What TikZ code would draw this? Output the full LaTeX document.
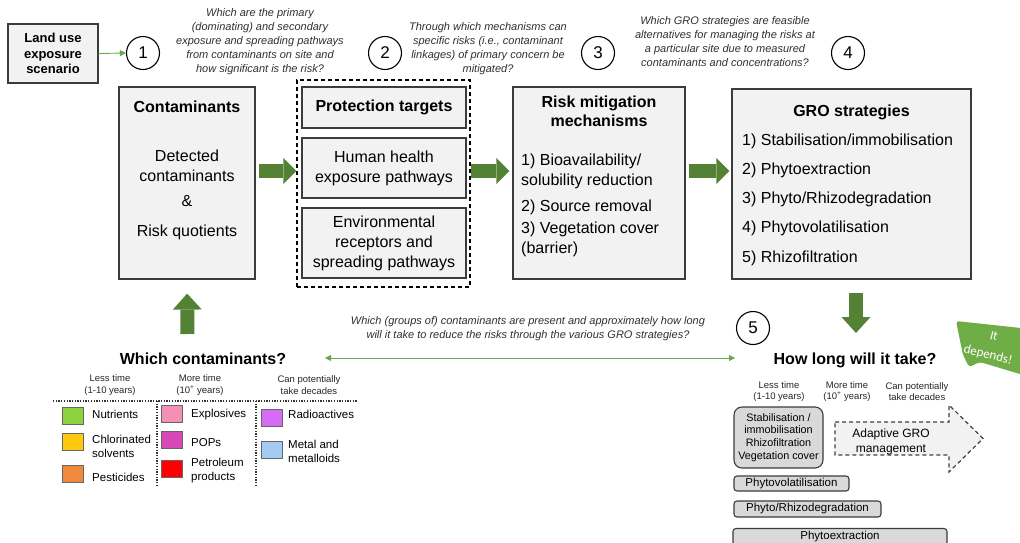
\documentclass[tikz,border=0pt]{standalone}
\usepackage{fontspec}
\setmainfont{Liberation Sans}
\newfontfamily\calfont{Carlito}
\usetikzlibrary{arrows.meta}

\definecolor{boxfill}{HTML}{F2F2F2}
\definecolor{boxline}{HTML}{3C3C3C}
\definecolor{darkgreen}{HTML}{548235}
\definecolor{litegreen}{HTML}{6AA84F}
\definecolor{bubblegreen}{HTML}{6FAD47}
\definecolor{qgray}{HTML}{2F2F2F}
\definecolor{pillfill}{HTML}{D9D9D9}
\definecolor{cNutr}{HTML}{8BD43E}
\definecolor{cChlor}{HTML}{FFC90E}
\definecolor{cPest}{HTML}{F0883E}
\definecolor{cExpl}{HTML}{F490B5}
\definecolor{cPOP}{HTML}{D946B8}
\definecolor{cPetro}{HTML}{FF0000}
\definecolor{cRadio}{HTML}{D66CF5}
\definecolor{cMetal}{HTML}{A4CCF0}

\newcommand\fs[2]{\fontsize{#1}{#2}\selectfont}

\begin{document}
\begin{tikzpicture}[x=1pt,y=-1pt,
  box/.style={draw=boxline, line width=1.2pt, fill=boxfill, inner sep=0pt},
  titletext/.style={font=\bfseries\fs{16}{19}, align=center, inner sep=0pt},
  bodytext/.style={font=\fs{16}{20}, align=center, inner sep=0pt},
  itemtext/.style={font=\fs{16}{20}, align=left, anchor=west, inner sep=0pt},
  question/.style={font=\itshape\fs{11}{14}, text=qgray, align=center, inner sep=0pt},
  numcirc/.style={circle, draw=black, line width=1.1pt, minimum size=33pt, inner sep=0pt, font=\fs{17}{17}},
  bigarrow/.style={draw=darkgreen, line width=14pt, -{Triangle[length=13pt,width=26pt,line width=0pt]}},
  bigvarrow/.style={draw=darkgreen, line width=14pt, -{Triangle[length=16pt,width=29pt,line width=0pt]}},
  thinarrow/.style={draw=litegreen, line width=0.9pt, -{Triangle[length=6pt,width=6pt]}},
  botharrow/.style={draw=litegreen, line width=0.9pt, {Triangle[length=6pt,width=6pt]}-{Triangle[length=6pt,width=6pt]}},
  legdots/.style={draw=black!80, line width=1.3pt, dash pattern=on 1.3pt off 1.4pt},
  swatch/.style={draw=black!60, line width=1pt, minimum width=21pt, minimum height=17pt, inner sep=0pt},
  legtext/.style={font=\fs{11.5}{14}, align=left, anchor=west, inner sep=0pt},
  headtext/.style={font=\fs{9.5}{11.5}, align=center, inner sep=0pt, text=black!85},
  pill/.style={draw=boxline, line width=1.1pt, fill=pillfill, rounded corners=3pt, inner sep=0pt, font=\fs{11.5}{13}},
]
\useasboundingbox (0,0) rectangle (1020,542);
\clip (0,0) rectangle (1020,542);

% ---------- top row: scenario, numbered steps and questions ----------
\node[box, minimum width=90pt, minimum height=59pt, font=\bfseries\fs{13}{15.5}, align=center]
  (land) at (53,53.5) {Land use\\exposure\\scenario};
\node[numcirc] (c1) at (143,53) {1};
\node[numcirc] (c2) at (385,53) {2};
\node[numcirc] (c3) at (598,53) {3};
\node[numcirc] (c4) at (848,53) {4};
\draw[thinarrow] (land.east) -- (c1.west);

\node[question] (q1) at (260,42) {Which are the primary\\(dominating) and secondary\\exposure and spreading pathways\\from contaminants on site and\\how significant is the risk?};
\node[question] (q2) at (488,49) {Through which mechanisms can\\specific risks (i.e., contaminant\\linkages) of primary concern be\\mitigated?};
\node[question] (q4) at (725,42) {Which GRO strategies are feasible\\alternatives for managing the risks at\\a particular site due to measured\\contaminants and concentrations?};

% ---------- main chain of boxes ----------
\node[box, minimum width=136pt, minimum height=192pt] (contam) at (187,183) {};
\node[titletext] (contamT) at (187,107) {Contaminants};
\node[bodytext] (contamB) at (187,195) {Detected\\contaminants\\[5pt]\&\\[10pt]Risk quotients};

\node[draw=black, line width=1.2pt, dash pattern=on 4pt off 3pt, minimum width=173pt, minimum height=207pt, inner sep=0pt]
  (ptgroup) at (383.5,183.5) {};
\node[box, minimum width=164pt, minimum height=41pt, font=\bfseries\fs{16}{19}] (ptT) at (384,107.5) {Protection targets};
\node[box, minimum width=164pt, minimum height=60pt, font=\fs{16}{20}, align=center] (hh) at (384,168) {Human health\\exposure pathways};
\node[box, minimum width=164pt, minimum height=70pt, font=\fs{16}{20}, align=center] (env) at (384,243) {Environmental\\receptors and\\spreading pathways};

\node[box, minimum width=172pt, minimum height=192pt] (risk) at (599,183) {};
\node[titletext] (riskT) at (599,111.5) {Risk mitigation\\mechanisms};
\node[itemtext] (risk1) at (521,171) {1) Bioavailability/\\solubility reduction};
\node[itemtext] (risk2) at (521,207.5) {2) Source removal};
\node[itemtext] (risk3) at (521,239.5) {3) Vegetation cover\\(barrier)};

\node[box, minimum width=239pt, minimum height=190pt] (gro) at (851.5,184) {};
\node[titletext] (groT) at (851.5,112.5) {GRO strategies};
\node[itemtext] (gro1) at (742,141.5) {1) Stabilisation/immobilisation};
\node[itemtext] (gro2) at (742,170.5) {2) Phytoextraction};
\node[itemtext] (gro3) at (742,199.5) {3) Phyto/Rhizodegradation};
\node[itemtext] (gro4) at (742,228.5) {4) Phytovolatilisation};
\node[itemtext] (gro5) at (742,258) {5) Rhizofiltration};

\coordinate (row) at (0,171);
\draw[bigarrow, shorten <=3pt] (contam.east |- row) -- (ptgroup.west |- row);
\draw[bigarrow, shorten >=3pt] (ptgroup.east |- row) -- (risk.west |- row);
\draw[bigarrow, shorten <=3pt, shorten >=2pt] (risk.east |- row) -- (gro.west |- row);

% ---------- middle: question 5 and the two summary headings ----------
\node[titletext] (wc) at (203,359) {Which contaminants?};
\node[titletext] (hl) at (855,360) {How long will it take?};
\node[numcirc] (c5) at (753,328) {5};
\node[question] (q5) at (528,329) {Which (groups of) contaminants are present and approximately how long\\will it take to reduce the risks through the various GRO strategies?};

\coordinate (upfoot) at (187.5,334);
\draw[bigvarrow, shorten >=14pt] (upfoot) -- (contam.south);
\coordinate (downtip) at (856,333);
\draw[bigvarrow, shorten <=13pt] (downtip |- gro.south) -- (downtip);

\coordinate (dblL) at (325,358);
\coordinate (dblR) at (735,358);
\draw[botharrow] (dblL) -- (dblR);

% ---------- contaminant legend ----------
\node[headtext] (h1) at (110,385) {Less time\\(1-10 years)};
\node[headtext] (h2) at (200,385) {More time\\(10\textsuperscript{+} years)};
\node[headtext] (h3) at (309,385) {Can potentially\\take decades};
\coordinate (dotL) at (53,401);
\coordinate (dotR) at (358,401);
\draw[legdots] (dotL) -- (dotR);
\draw[legdots] (157,401) -- (157,486);
\draw[legdots] (256,401) -- (256,486);

\node[swatch, fill=cNutr]  (sNutr)  at (72.5,415.5) {};
\node[legtext] (tNutr) at (92,414.5) {Nutrients};
\node[swatch, fill=cChlor] (sChlor) at (72.5,442) {};
\node[legtext] (tChlor) at (92,446) {Chlorinated\\solvents};
\node[swatch, fill=cPest]  (sPest)  at (72.5,473.5) {};
\node[legtext] (tPest) at (92,477.5) {Pesticides};

\node[swatch, fill=cExpl]  (sExpl)  at (171.5,414) {};
\node[legtext] (tExpl) at (191,414.5) {Explosives};
\node[swatch, fill=cPOP]   (sPOP)   at (171.5,440) {};
\node[legtext] (tPOP) at (191,442.5) {POPs};
\node[swatch, fill=cPetro] (sPetro) at (171.5,469) {};
\node[legtext] (tPetro) at (191,471) {Petroleum\\products};

\node[swatch, fill=cRadio] (sRadio) at (272,417.5) {};
\node[legtext] (tRadio) at (288,414.5) {Radioactives};
\node[swatch, fill=cMetal] (sMetal) at (272,450) {};
\node[legtext] (tMetal) at (288,451) {Metal and\\metalloids};

% ---------- time-frame legend ----------
\node[headtext] (r1) at (779,391.5) {Less time\\(1-10 years)};
\node[headtext] (r2) at (847,391.5) {More time\\(10\textsuperscript{+} years)};
\node[headtext] (r3) at (917,391.5) {Can potentially\\take decades};

\path[draw=black!75, line width=1.2pt, dash pattern=on 4pt off 3pt, fill=boxfill]
  (835,422) -- (949,422) -- (949,405) -- (983,438.5) -- (949,472) -- (949,455) -- (835,455) -- cycle;
\node[font=\fs{12}{14.5}, align=center, inner sep=0pt] (adapt) at (891,442) {Adaptive GRO\\management};

\node[pill, rounded corners=8pt, minimum width=89pt, minimum height=61pt, font=\fs{10.8}{12.7}, align=center]
  (stab) at (778.5,437.5) {Stabilisation /\\immobilisation\\Rhizofiltration\\Vegetation cover};
\node[pill, minimum width=115pt, minimum height=15pt] (pvol) at (791.5,483.5) {Phytovolatilisation};
\node[pill, minimum width=147pt, minimum height=16pt] (prhz) at (807.5,509) {Phyto/Rhizodegradation};
\node[pill, minimum width=214pt, minimum height=17pt] (pext) at (840,537) {Phytoextraction};

% ---------- speech bubble ----------
\fill[bubblegreen, rounded corners=3pt]
  (956,321) -- (1030,329) -- (1030,377) -- (980,362) -- (969,367) -- (963,355) -- cycle;
\node[rotate=-14, text=white, font=\calfont\fs{13}{13}, inner sep=0pt] (dep1) at (994,336) {It};
\node[rotate=-14, text=white, font=\calfont\fs{13}{13}, inner sep=0pt] (dep2) at (988,355) {depends!};
\end{tikzpicture}
\end{document}
